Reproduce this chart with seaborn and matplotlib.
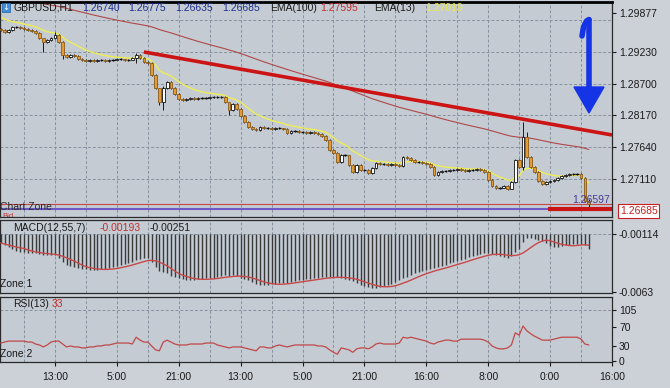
import numpy as np
import pandas as pd
import matplotlib
matplotlib.use("Agg")
import matplotlib.pyplot as plt
import seaborn as sns
from matplotlib.patches import Rectangle, Polygon
from matplotlib.lines import Line2D

sns.set_theme(style="white")
plt.rcParams['font.family'] = ['Liberation Sans', 'DejaVu Sans']

# ---------------- data ----------------
closes = [
    1.29597, 1.29563, 1.29597, 1.29647, 1.29647, 1.29630, 1.29614, 1.29597, 1.29580, 1.29547,
    1.29463, 1.29397, 1.29430, 1.29463, 1.29513, 1.29397, 1.29180, 1.29146, 1.29180, 1.29163,
    1.29113, 1.29096, 1.29079, 1.29096, 1.29079, 1.29096, 1.29098, 1.29079, 1.29096, 1.29098,
    1.29113, 1.29111, 1.29096, 1.29098, 1.29130, 1.29180, 1.29130, 1.29063, 1.29046, 1.28846,
    1.28629, 1.28395, 1.28629, 1.28729, 1.28629, 1.28529, 1.28445, 1.28429, 1.28445, 1.28462,
    1.28445, 1.28462, 1.28460, 1.28462, 1.28479, 1.28477, 1.28479, 1.28481, 1.28395, 1.28262,
    1.28362, 1.28278, 1.28162, 1.28061, 1.27978, 1.27945, 1.27928, 1.27978, 1.27961, 1.27963,
    1.27945, 1.27961, 1.27959, 1.27945, 1.27878, 1.27911, 1.27913, 1.27894, 1.27896, 1.27878,
    1.27894, 1.27878, 1.27861, 1.27828, 1.27761, 1.27594, 1.27544, 1.27394, 1.27511, 1.27509,
    1.27344, 1.27227, 1.27344, 1.27260, 1.27262, 1.27210, 1.27294, 1.27377, 1.27360, 1.27362,
    1.27344, 1.27360, 1.27344, 1.27327, 1.27477, 1.27461, 1.27427, 1.27394, 1.27396, 1.27377,
    1.27360, 1.27310, 1.27177, 1.27227, 1.27244, 1.27242, 1.27260, 1.27262, 1.27277, 1.27260,
    1.27244, 1.27260, 1.27262, 1.27277, 1.27260, 1.27227, 1.27093, 1.26993, 1.26960, 1.26962,
    1.26993, 1.26943, 1.27060, 1.27427, 1.27310, 1.27811, 1.27477, 1.27310, 1.27227, 1.27077,
    1.27027, 1.27060, 1.27077, 1.27093, 1.27127, 1.27160, 1.27177, 1.27194, 1.27192, 1.27194,
    1.27127, 1.26740, 1.26685,
]
first_open = 1.29620
extra_high = {11: 1.29400, 14: 1.29560, 35: 1.29213, 41: 1.28400, 42: 1.28660, 59: 1.28300,
              133: 1.27440, 135: 1.28061, 136: 1.27894, 152: 1.26775}
extra_low = {11: 1.29230, 16: 1.29120, 35: 1.29046, 41: 1.28345, 42: 1.28262, 59: 1.28180,
             132: 1.26943, 133: 1.27040, 135: 1.27260, 152: 1.26635}

macd_vals = [v * 1e-5 for v in [
    -194, -212, -230, -248, -265, -274, -274, -283, -283, -283,
    -292, -301, -301, -301, -301, -328, -363, -390, -399, -408,
    -417, -426, -426, -434, -434, -434, -426, -426, -417, -408,
    -399, -390, -381, -372, -363, -345, -337, -328, -328, -363,
    -408, -443, -452, -461, -488, -497, -506, -515, -523, -523,
    -523, -515, -515, -506, -506, -506, -497, -488, -479, -488,
    -479, -488, -506, -515, -523, -541, -559, -568, -568, -568,
    -559, -559, -550, -550, -550, -541, -532, -523, -523, -515,
    -515, -506, -506, -497, -497, -497, -497, -497, -506, -515,
    -523, -532, -550, -568, -577, -586, -595, -595, -586, -577,
    -568, -559, -541, -523, -506, -497, -479, -461, -452, -443,
    -434, -426, -417, -408, -399, -390, -372, -363, -354, -345,
    -337, -319, -310, -301, -292, -283, -283, -292, -301, -310,
    -319, -328, -310, -274, -248, -185, -150, -150, -158, -167,
    -176, -194, -221, -230, -230, -221, -212, -212, -203, -203,
    -203, -212, -251,
]]

rsi_vals = [
    37, 39, 41, 41, 41, 41, 41, 39, 39, 35,
    33, 29, 33, 39, 41, 41, 35, 29, 31, 29,
    29, 27, 27, 29, 29, 31, 31, 33, 33, 35,
    37, 37, 37, 37, 35, 49, 43, 39, 39, 31,
    23, 21, 39, 43, 39, 35, 33, 33, 33, 35,
    35, 35, 35, 37, 37, 37, 33, 31, 29, 27,
    29, 29, 29, 27, 25, 23, 21, 29, 29, 27,
    27, 31, 33, 31, 29, 31, 33, 33, 33, 33,
    33, 33, 31, 31, 29, 23, 18, 14, 27, 25,
    23, 18, 25, 27, 27, 25, 29, 35, 37, 35,
    35, 35, 35, 37, 49, 47, 49, 47, 45, 43,
    41, 37, 35, 39, 41, 43, 43, 41, 41, 45,
    45, 45, 45, 45, 45, 43, 39, 31, 27, 25,
    25, 27, 33, 58, 53, 72, 62, 56, 51, 47,
    43, 43, 43, 45, 47, 49, 49, 49, 49, 49,
    45, 35, 33,
]

ema100_seed = 1.30160
ema13_seed = 1.29850
x_labels = ['13:00', '5:00', '21:00', '13:00', '5:00', '21:00', '16:00', '8:00', '0:00', '16:00']
price_ticks = [1.29877, 1.29230, 1.28700, 1.28170, 1.27640, 1.27110]
price_grid = [1.29760, 1.29230, 1.28700, 1.28170, 1.27640, 1.27110]
macd_ticks = [-0.00114, -0.0063]
rsi_ticks = [105, 70, 30, 0]
trend_x = [37, 158]
trend_y = [1.29230, 1.27845]
bid_price = 1.26693
ask_price = 1.26610
support_x = [141.5, 158]
support_y = 1.26615
header_ohlc = ['1.26740', '1.26775', '1.26635', '1.26685']

# ---------------- derived ----------------
n = len(closes)
idx = np.arange(n)
c = np.array(closes)
o = np.array([first_open] + closes[:-1])
hi = np.maximum(o, c) + 0.00010
lo = np.minimum(o, c) - 0.00010
for k, v in extra_high.items():
    hi[k] = v
for k, v in extra_low.items():
    lo[k] = v


def ema(values, span, seed):
    a = 2.0 / (span + 1)
    out = []
    prev = seed
    for v in values:
        prev = prev + a * (v - prev)
        out.append(prev)
    return np.array(out)


ema100 = ema(c, 100, ema100_seed)
ema13 = ema(c, 13, ema13_seed)
macd_arr = np.array(macd_vals)
signal = pd.Series(macd_arr).rolling(7, min_periods=1).mean().values

# ---------------- figure ----------------
W, H = 670, 388
fig = plt.figure(figsize=(6.7, 3.88), dpi=100, facecolor='#ccd1d8')


def fx(px):
    return px / W


def fy(py):
    return 1 - py / H


bg = '#c4cbd3'
ax = fig.add_axes([0, fy(217), 612 / W, (217 - 2) / H], facecolor=bg)
axm = fig.add_axes([0, fy(293), 612 / W, (293 - 220) / H], facecolor=bg)
axr = fig.add_axes([0, fy(362), 612 / W, (362 - 297) / H], facecolor=bg)

XL = (-0.2, 158)
grid_c = '#8792a0'
for a in (ax, axm, axr):
    a.set_xlim(*XL)
    for g in range(6, 158, 8):
        a.axvline(g, ls=(0, (3, 2)), color=grid_c, lw=0.7, zorder=0)
    for s in a.spines.values():
        s.set_color('#2a2a2a')
        s.set_linewidth(0.9)
    a.yaxis.tick_right()
    a.tick_params(axis='y', length=3, width=0.8, labelsize=7.5, colors='#1a1a1a', pad=2,
                  direction='out', right=True, left=False)
ax.spines['top'].set_linewidth(2)
ax.spines['top'].set_color('#000000')

# ---- main panel ----
ax.set_ylim(1.26476, 1.30064)
for g in price_grid:
    ax.axhline(g, ls=(0, (3, 2)), color=grid_c, lw=0.7, zorder=0)
ax.set_yticks(price_ticks)
ax.set_yticklabels([f'{v:.5f}' for v in price_ticks])
ax.set_xticks([])

sns.lineplot(x=idx, y=ema100, ax=ax, color='#b04848', lw=0.8, zorder=2)
sns.lineplot(x=idx, y=ema13, ax=ax, color='#eeee55', lw=1.0, zorder=2)

ax.vlines(idx, lo, hi, color='#1a1a1a', lw=0.7, zorder=3)
body_w = 0.72
up = c > o + 0.00004
down = c < o - 0.00004
doji = ~(up | down)
ax.bar(idx[up], (c - o)[up], bottom=o[up], width=body_w, color='#ffffff',
       edgecolor='#111111', lw=0.6, zorder=4)
ax.bar(idx[down], (o - c)[down], bottom=c[down], width=body_w, color='#e39b35',
       edgecolor='#8a5a18', lw=0.6, zorder=4)
ax.hlines(c[doji], idx[doji] - 0.45, idx[doji] + 0.45, color='#111111', lw=1.0, zorder=4)

ax.plot(trend_x, trend_y, color='#cc1414', lw=2.6, solid_capstyle='butt', zorder=5)
ax.axhline(bid_price, color='#c84848', lw=0.8, zorder=2)
ax.axhline(ask_price, color='#6e58c8', lw=1.5, zorder=2)
ax.plot(support_x, [support_y, support_y], color='#cc1414', lw=3, solid_capstyle='butt', zorder=5)

# ---- MACD panel ----
axm.set_ylim(-0.00639, 0.000106)
axm.axhline(macd_ticks[0], ls=(0, (3, 2)), color=grid_c, lw=0.7, zorder=0)
axm.vlines(idx, macd_ticks[0], macd_arr, color='#3a3a3a', lw=1.0, zorder=2)
sns.lineplot(x=idx, y=signal, ax=axm, color='#c84848', lw=1.0, zorder=3)
axm.set_yticks(macd_ticks)
axm.set_yticklabels(['-0.00114', '-0.0063'])
axm.set_xticks([])

# ---- RSI panel ----
axr.set_ylim(-2, 131.7)
axr.axhline(105, ls=(0, (3, 2)), color=grid_c, lw=0.7, zorder=0)
sns.lineplot(x=idx, y=np.array(rsi_vals, dtype=float), ax=axr, color='#c04848', lw=0.9, zorder=3)
axr.set_yticks(rsi_ticks)
axr.set_yticklabels([str(v) for v in rsi_ticks])
axr.set_xticks([14 + 16 * k for k in range(len(x_labels))])
axr.set_xticklabels(x_labels)
axr.tick_params(axis='x', length=3, width=0.8, labelsize=7.5, colors='#1a1a1a', pad=4,
                direction='out', bottom=True)
for a in (ax, axm, axr):
    a.set_xlabel('')
    a.set_ylabel('')
    if a.get_legend():
        a.get_legend().remove()
axr.set_xlim(*XL)

# ---------------- texts ----------------
fs = 7.5
fig.patches.append(Rectangle((fx(2), fy(12)), fx(8), 9 / H, transform=fig.transFigure,
                             facecolor='#3c8fe0', edgecolor='#2060a0', lw=0.5, zorder=10))
fig.text(fx(6), fy(7.5), '↓', fontsize=6, color='white', ha='center', va='center',
         family=['DejaVu Sans'], zorder=11)
fig.text(fx(13), fy(8), 'GBPUSD,H1', fontsize=fs, color='#1a1a1a', va='center')
for xp, t in zip([82, 128, 175, 222], header_ohlc):
    fig.text(fx(xp), fy(8), t, fontsize=fs, color='#1f2f8e', va='center')
fig.text(fx(270), fy(8), 'EMA(100)', fontsize=fs, color='#1a1a1a', va='center')
fig.text(fx(320), fy(8), '1.27595', fontsize=fs, color='#c03030', va='center')
fig.text(fx(374), fy(8), 'EMA(13)', fontsize=fs, color='#1a1a1a', va='center')
fig.text(fx(425), fy(8), '1.27019', fontsize=fs, color='#eaea50', va='center')

# "Bid" sits partly hidden under "Chart Zone" at the panel's bottom edge
ax.text(0.5, 1.26492, 'Bid', fontsize=5.5, color='#c03030', va='center', clip_on=True, zorder=1)
fig.text(fx(0), fy(207), 'Chart Zone', fontsize=fs, color='#2a2a2a', va='center')
fig.text(fx(572), fy(200), '1.26597', fontsize=fs, color='#4a3a9a', va='center')
fig.text(fx(620), fy(211), '1.26685', fontsize=fs, color='#c82020', va='center',
         bbox=dict(boxstyle='square,pad=0.15', facecolor='white', edgecolor='#c82020', lw=0.8))

fig.text(fx(13), fy(228), 'MACD(12,55,7)', fontsize=fs, color='#1a1a1a', va='center')
fig.text(fx(100), fy(228), '-0.00193', fontsize=fs, color='#c03030', va='center')
fig.text(fx(150), fy(228), '-0.00251', fontsize=fs, color='#1a1a1a', va='center')
fig.text(fx(0), fy(284), 'Zone 1', fontsize=fs, color='#1a1a1a', va='center')

fig.text(fx(13), fy(304), 'RSI(13)', fontsize=fs, color='#1a1a1a', va='center')
fig.text(fx(52), fy(304), '33', fontsize=fs, color='#c03030', va='center')
fig.text(fx(0), fy(354), 'Zone 2', fontsize=fs, color='#1a1a1a', va='center')

# ---------------- blue arrow ----------------
blue = '#1434e6'
fig.add_artist(Line2D([fx(589), fx(589)], [fy(20), fy(92)], transform=fig.transFigure,
                      color=blue, lw=4, solid_capstyle='round', zorder=12))
fig.add_artist(Line2D([fx(582), fx(583.5), fx(586.5), fx(589)], [fy(36), fy(27), fy(21), fy(19.5)],
                      transform=fig.transFigure, color=blue, lw=4, solid_capstyle='round', zorder=12))
fig.patches.append(Polygon([(fx(574), fy(87)), (fx(604), fy(87)), (fx(589), fy(113))],
                           closed=True, transform=fig.transFigure, facecolor=blue,
                           edgecolor=blue, zorder=12))

fig.savefig('out.png', dpi=100, facecolor=fig.get_facecolor())
